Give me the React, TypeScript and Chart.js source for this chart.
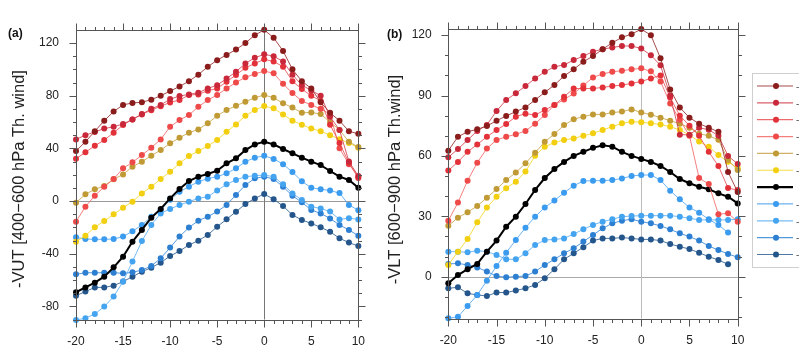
import { useEffect, useRef } from "react";
import { Chart, registerables } from "chart.js";

Chart.register(...registerables);

// Lag (days) along the horizontal axis
const lags = [-20, -19, -18, -17, -16, -15, -14, -13, -12, -11, -10, -9, -8, -7, -6, -5, -4, -3, -2, -1, 0, 1, 2, 3, 4, 5, 6, 7, 8, 9, 10];

// (a) -VUT, 400–600 hPa thermal wind
const vut1 = [38, 45, 53, 61, 68, 73, 74.5, 75, 77, 80, 83.5, 87, 91, 96, 102, 107, 111, 115, 120, 126, 130, 124, 114, 100, 91, 85.5, 75, 67, 61, 53, 51];
const vut2 = [46.8, 50, 52.5, 55, 56.4, 58.5, 62, 66, 70, 73, 77.4, 79.7, 81, 82.3, 85.5, 88, 93, 98.2, 104.5, 108.8, 111.4, 110, 106, 96, 88, 84, 80, 64, 54, 30, 19];
const vut3 = [32.1, 37, 42, 46.3, 51.9, 57.7, 62, 65.8, 69, 72, 74.9, 76.7, 80.5, 81, 83.8, 85.5, 90.6, 95.7, 101.2, 104.5, 107.6, 106, 102, 91, 85, 80, 76, 58, 44, 29, 17.5];
const vut4 = [-15.7, -4.3, 4, 10.9, 16.7, 24.8, 29.4, 34.9, 40.5, 46.8, 56.4, 61.5, 65.3, 71.6, 76.7, 80.5, 85.5, 90, 94, 96.5, 98.7, 97, 89, 82, 76, 73, 70, 66, 40, 28, 18.5];
const vut5 = [-1.3, 5.1, 8.9, 11.4, 16.5, 20.2, 26.1, 29.9, 34.4, 38.7, 43.8, 48.1, 51.9, 54.4, 59, 64.8, 69.1, 72.4, 75.4, 78.5, 80.5, 78.5, 74.2, 71, 67, 67.3, 66, 60, 54, 45, 41];
const vut6 = [-30.9, -26.3, -20, -15.2, -10.1, -5.1, -0.5, 5.8, 10.9, 16.7, 22.3, 28.6, 34.2, 38, 41.8, 46.3, 52.6, 58.2, 64.8, 69.1, 72.1, 70.4, 65.8, 61, 58, 55, 53, 50, 47, 44, 40.5];
const vut7 = [-69.3, -65.6, -62, -57.5, -50.4, -42.3, -30.9, -22, -12.7, -6, 2, 9.1, 15.2, 18.5, 20.5, 23, 28.6, 32.4, 38.7, 43, 45, 43, 39.5, 36.2, 32.9, 29.9, 27.3, 22.8, 18.5, 16, 10.1];
const vut8 = [-27.6, -28.9, -29.1, -29.1, -28.9, -27, -23, -18.2, -12, -7, 1, 7, 10.9, 14.7, 17, 18.5, 21, 24.8, 29.9, 32.9, 34.4, 32, 28, 22, 15, 10, 9, 8, 6, -3, -7];
const vut9 = [-90.4, -89, -85.8, -80.2, -72.6, -61.2, -46, -30.4, -18.2, -9.4, -6, -3, -0.5, 2, 3.3, 8, 12.7, 16, 18.5, 19.2, 19.7, 18.5, 12.7, 5.8, 0.8, -4.3, -5.6, -8, -14, -13, -14];
const vut10 = [-55.7, -54.5, -54.5, -54.5, -54.5, -54.9, -54.2, -52.4, -49.4, -43.5, -35.4, -27, -20.2, -14.9, -11.9, -8, -3, 4.6, 12.1, 17.2, 18.5, 16.7, 10.9, 4, -1, -6.8, -9.4, -13.2, -18.2, -22, -26.3];
const vut11 = [-71.9, -68.8, -65.6, -65.6, -64.3, -61.2, -57.5, -53.7, -50.6, -46.8, -41.8, -38, -33.4, -30.1, -25.8, -19.5, -13.9, -8.1, -2.3, 2, 5.3, 1.3, -3.8, -10.6, -14.4, -17, -20, -23.3, -28.3, -31.6, -34.2];

// (b) -VLT, 600–900 hPa thermal wind
const vlt1 = [62.6, 69.5, 72, 73.2, 74.8, 77.5, 79.8, 82, 84.1, 87.8, 91.6, 95.2, 99.7, 103, 106.8, 109.6, 113, 116.2, 118.9, 120.5, 123, 120, 108.5, 93, 84, 79, 76, 74, 72, 52, 42];
const vlt2 = [59.3, 63.4, 67.9, 72.4, 75.4, 82.3, 87.8, 91.1, 94.7, 98.5, 101.8, 104.3, 105.2, 107.6, 109.6, 111.8, 113, 113.9, 114.6, 114.6, 113.4, 110, 105, 90, 70.5, 70.5, 74, 73, 70, 60, 56];
const vlt3 = [52.7, 57, 62, 65.7, 69.5, 72.9, 75.8, 79.5, 81, 80.3, 82.8, 85.3, 89.4, 93.5, 93.5, 93.5, 94, 94.7, 95.2, 96, 97, 98.5, 100, 89, 80, 75, 70, 62, 55, 44, 43];
const vlt4 = [27.8, 36.8, 47.7, 56.6, 63.7, 67.9, 69.5, 70.7, 72.4, 76, 80.3, 85.3, 88, 91, 95, 99, 100.7, 101.8, 102.3, 103, 103.5, 102, 97, 86, 78, 70, 49, 46, 31, 31.5, 27.3];
const vlt5 = [25.3, 29.3, 32, 35.1, 39.2, 43.5, 48, 51.7, 56.3, 61.6, 67, 70.9, 75.3, 78.2, 79.5, 80.6, 80.6, 81.5, 82, 83.1, 81.6, 80.5, 79, 77.5, 76, 74, 71, 70, 68, 58, 53];
const vlt6 = [5.8, 12.4, 18.7, 27, 34.3, 39.7, 43.9, 47.2, 52.2, 60.1, 64.6, 66.6, 67.9, 68.7, 70, 71.2, 72.9, 74.5, 76.2, 77, 76.7, 76.2, 75.6, 74.5, 72.9, 70.4, 67.1, 64.6, 60.4, 57.1, 53.8];
const vlt7 = [-3.3, 0.8, 3.7, 6.3, 12.4, 17.9, 24.8, 29.8, 36.1, 43.1, 49, 53.5, 57, 60, 62, 64, 65.3, 64.6, 62, 60, 58.5, 57, 55, 52, 48.5, 46.4, 44.7, 43.4, 41.4, 39.7, 36.4];
const vlt8 = [-20.7, -19.9, -14.6, -9.1, -2, 5.3, 11.9, 18.2, 24.3, 29.8, 34.4, 37.8, 41.7, 45.2, 47.5, 47.7, 47.7, 48, 48.8, 50, 50.5, 50.5, 48, 42.7, 38.4, 34.4, 31.8, 28.5, 25.7, 21.9, null];
const vlt9 = [12.4, 12.4, 12.1, 12.9, 12.4, 10.8, 8.6, 8.6, 11.6, 15.7, 18.2, 18.5, 19, 21.2, 23.5, 25.7, 27.3, 28.5, 29.8, 30.1, 30.3, 30.3, 30.3, 30.3, 29.8, 29, 28.2, 28.2, 28.2, 28.2, 28.5];
const vlt10 = [6.3, 6.6, 5.8, 4.6, 2.5, 0.3, -0.3, 0, 0.3, 2.5, 5.8, 8.6, 11.6, 14.1, 17.4, 20.7, 24, 26.5, 27.8, 28.5, 27.3, 26.5, 25.2, 23.5, 21.5, 19.9, 17.9, 15.2, 13.2, 11.3, 9.6];
const vlt11 = [-5.8, -5.3, -8.3, -9.1, -9.6, -7.9, -7.9, -6.9, -5.8, -4.1, -0.8, 3.7, 8.6, 11.6, 14.6, 17.9, 19, 19, 19.4, 19, 18.5, 18.5, 17.9, 16.2, 14.9, 13.7, 11.9, 9.9, 8.3, 6.1, null];

const vutSeries = [vut1, vut2, vut3, vut4, vut5, vut6, vut7, vut8, vut9, vut10, vut11];
const vltSeries = [vlt1, vlt2, vlt3, vlt4, vlt5, vlt6, vlt7, vlt8, vlt9, vlt10, vlt11];

// Legend entries (text runs off the right edge of the page)
const legendLabels = ["-", "-", "-", "-", "-", "-", "", "-", "-", "-", "-"];

// Tick values
const xTicks = [-20, -15, -10, -5, 0, 5, 10];
const vutTicks = [-80, -40, 0, 40, 80, 120];
const vltTicks = [0, 30, 60, 90, 120];

// Styling for the eleven curves
const markerColors = ["#8a1c1c", "#c9283a", "#e3313a", "#ef4a4a", "#c09a35", "#f2cf10", "#000000", "#3b9cef", "#45a4f0", "#2d7fd2", "#24568c"];
const lineColors = ["rgba(150,45,45,0.85)", "rgba(205,55,70,0.8)", "rgba(232,70,75,0.8)", "rgba(242,95,95,0.8)", "rgba(200,165,75,0.85)", "rgba(245,215,40,0.85)", "#000000", "rgba(70,160,240,0.8)", "rgba(85,170,242,0.8)", "rgba(55,135,215,0.85)", "rgba(45,95,145,0.85)"];
const lineWidths = [1, 1, 1, 1, 1, 1, 2, 1, 1, 1, 1];

const FONT = "'Liberation Sans', Arial, Helvetica, sans-serif";

type PanelCfg = {
  series: (number | null)[][];
  yMin: number;
  yMax: number;
  yTicks: number[];
  yMinor: number;
  yTitle: string;
  titleX: number;
  titleY: number;
  tag: string;
  tagX: number;
  tagY: number;
  zeroV: string;
  zeroH: string;
  pad: { top: number; right: number; yWidth: number; xHeight: number; tickPad: number };
  legend?: boolean;
};

function makeFramePlugin(cfg: PanelCfg) {
  return {
    id: "ncl-frame",
    beforeDatasetsDraw(chart: any) {
      const { ctx, chartArea: a, scales } = chart;
      const x0 = Math.round(scales.x.getPixelForValue(0)) + 0.5;
      const y0 = Math.round(scales.y.getPixelForValue(0)) + 0.5;
      ctx.save();
      ctx.lineWidth = 1;
      ctx.strokeStyle = cfg.zeroH;
      ctx.beginPath();
      ctx.moveTo(a.left, y0);
      ctx.lineTo(a.right, y0);
      ctx.stroke();
      ctx.strokeStyle = cfg.zeroV;
      ctx.beginPath();
      ctx.moveTo(x0, a.top);
      ctx.lineTo(x0, a.bottom);
      ctx.stroke();
      ctx.restore();
    },
    afterDraw(chart: any) {
      const { ctx, chartArea: a, scales } = chart;
      const L = Math.round(a.left) + 0.5;
      const R = Math.round(a.right) + 0.5;
      const T = Math.round(a.top) + 0.5;
      const B = Math.round(a.bottom) + 0.5;
      ctx.save();
      ctx.strokeStyle = "#555";
      ctx.lineWidth = 1;
      ctx.strokeRect(L, T, R - L, B - T);
      ctx.beginPath();
      // x ticks, outward on bottom and top
      for (let v = -20; v <= 10; v++) {
        const px = Math.round(scales.x.getPixelForValue(v)) + 0.5;
        const len = xTicks.includes(v) ? 7 : 3.5;
        ctx.moveTo(px, B);
        ctx.lineTo(px, B + len);
        ctx.moveTo(px, T);
        ctx.lineTo(px, T - len);
      }
      // y ticks, outward on left and right
      const start = Math.ceil(cfg.yMin / cfg.yMinor) * cfg.yMinor;
      for (let v = start; v <= cfg.yMax; v += cfg.yMinor) {
        const py = Math.round(scales.y.getPixelForValue(v)) + 0.5;
        const len = cfg.yTicks.includes(v) ? 7 : 3.5;
        ctx.moveTo(L, py);
        ctx.lineTo(L - len, py);
        ctx.moveTo(R, py);
        ctx.lineTo(R + len, py);
      }
      ctx.stroke();

      // y-axis title, reading bottom to top
      ctx.save();
      ctx.translate(cfg.titleX, cfg.titleY);
      ctx.rotate(-Math.PI / 2);
      ctx.fillStyle = "#222";
      ctx.font = `16.5px ${FONT}`;
      ctx.textAlign = "center";
      ctx.textBaseline = "middle";
      ctx.fillText(cfg.yTitle, 0, 0);
      ctx.restore();

      // panel tag
      ctx.fillStyle = "#111";
      ctx.font = `bold 12px ${FONT}`;
      ctx.textAlign = "left";
      ctx.textBaseline = "middle";
      ctx.fillText(cfg.tag, cfg.tagX, cfg.tagY);

      if (cfg.legend) {
        const bx = 372.5;
        const by = 73.5;
        ctx.strokeStyle = "#cfcfcf";
        ctx.strokeRect(bx, by, 80, 194);
        for (let i = 0; i < legendLabels.length; i++) {
          const yy = 86 + i * 16.85;
          ctx.strokeStyle = lineColors[i];
          ctx.lineWidth = lineWidths[i] === 2 ? 2.2 : 1.2;
          ctx.beginPath();
          ctx.moveTo(377, yy);
          ctx.lineTo(413, yy);
          ctx.stroke();
          ctx.fillStyle = markerColors[i];
          ctx.beginPath();
          ctx.arc(396, yy, 3, 0, Math.PI * 2);
          ctx.fill();
          ctx.fillStyle = "#555";
          ctx.font = `10px ${FONT}`;
          ctx.fillText(legendLabels[i], 416, yy + 1);
        }
      }
      ctx.restore();
    },
  };
}

function Panel({ cfg, left, width }: { cfg: PanelCfg; left: number; width: number }) {
  const ref = useRef<HTMLCanvasElement | null>(null);
  useEffect(() => {
    if (!ref.current) return;
    const datasets = cfg.series.map((s, i) => ({
      label: legendLabels[i] || "mean",
      data: s.map((v, j) => ({ x: lags[j], y: v })),
      borderColor: lineColors[i],
      borderWidth: lineWidths[i],
      pointRadius: 3,
      pointHoverRadius: 3,
      pointBorderWidth: 0,
      pointBackgroundColor: markerColors[i],
      tension: 0,
      clip: false as any,
      spanGaps: false,
    }));
    const chart = new Chart(ref.current, {
      type: "line",
      data: { datasets: datasets as any },
      options: {
        responsive: false,
        animation: false,
        devicePixelRatio: 1,
        events: [],
        layout: { padding: { top: cfg.pad.top, right: cfg.pad.right, left: 0, bottom: 0 } },
        plugins: { legend: { display: false }, tooltip: { enabled: false } },
        scales: {
          x: {
            type: "linear",
            min: -20,
            max: 10,
            afterBuildTicks: (s: any) => {
              s.ticks = xTicks.map((v) => ({ value: v }));
            },
            afterFit: (s: any) => {
              s.height = cfg.pad.xHeight;
            },
            grid: { display: false, drawTicks: false },
            border: { display: false },
            ticks: { color: "#222", font: { family: FONT, size: 12 }, padding: 15, maxRotation: 0, autoSkip: false },
          },
          y: {
            type: "linear",
            min: cfg.yMin,
            max: cfg.yMax,
            afterBuildTicks: (s: any) => {
              s.ticks = cfg.yTicks.map((v) => ({ value: v }));
            },
            afterFit: (s: any) => {
              s.width = cfg.pad.yWidth;
            },
            grid: { display: false, drawTicks: false },
            border: { display: false },
            ticks: { color: "#222", font: { family: FONT, size: 12 }, padding: cfg.pad.tickPad, autoSkip: false },
          },
        },
      },
      plugins: [makeFramePlugin(cfg)],
    });
    return () => chart.destroy();
  }, [cfg]);
  return (
    <canvas
      ref={ref}
      width={width}
      height={347}
      style={{ position: "absolute", left, top: 0, width, height: 347 }}
    />
  );
}

const panelA: PanelCfg = {
  series: vutSeries,
  yMin: -90,
  yMax: 129.9,
  yTicks: vutTicks,
  yMinor: 10,
  yTitle: "-VUT [400\u2212600 hPa Th. wind]",
  titleX: 19,
  titleY: 179,
  tag: "(a)",
  tagX: 8,
  tagY: 34,
  zeroV: "#777",
  zeroH: "#999",
  pad: { top: 30, right: 15, yWidth: 76, xHeight: 27.5, tickPad: 17 },
};

const panelB: PanelCfg = {
  series: vltSeries,
  yMin: -20.8,
  yMax: 123.3,
  yTicks: vltTicks,
  yMinor: 10,
  yTitle: "-VLT [600\u2212900 hPa Th.wind]",
  titleX: 15,
  titleY: 179.5,
  tag: "(b)",
  tagX: 7,
  tagY: 35,
  zeroV: "#bbb",
  zeroH: "#aaa",
  pad: { top: 28.5, right: 61.3, yWidth: 68.3, xHeight: 28.5, tickPad: 16.6 },
  legend: true,
};

export default function App() {
  return (
    <div style={{ position: "fixed", left: 0, top: 0, width: 799, height: 347, overflow: "hidden", background: "#fff" }}>
      <Panel cfg={panelA} left={0} width={380} />
      <Panel cfg={panelB} left={380} width={419} />
    </div>
  );
}
